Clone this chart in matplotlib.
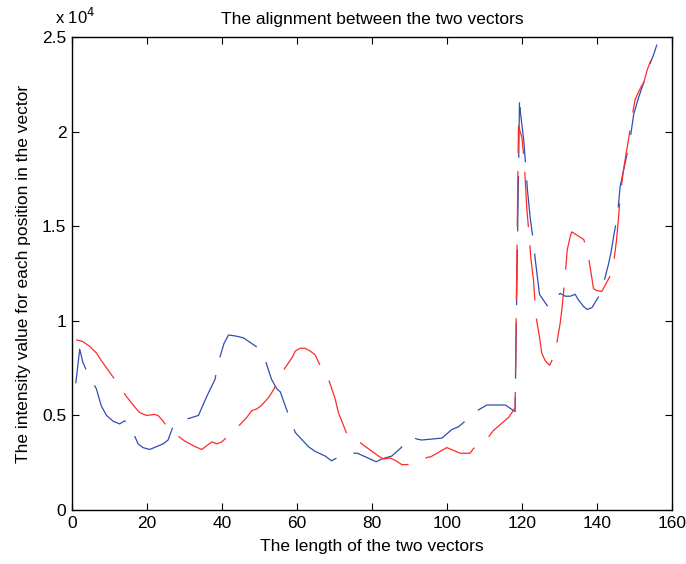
import matplotlib
matplotlib.use("Agg")
import matplotlib.pyplot as plt
from matplotlib.ticker import FuncFormatter

plt.rcParams['font.family'] = ['Liberation Sans', 'DejaVu Sans']
plt.rcParams['lines.scale_dashes'] = False

# blue vector (position, intensity)
blue_x = [1.0, 2.05, 2.9, 4.0, 6.5, 7.8, 9.2, 10.9, 12.7, 13.9, 14.7, 15.4,
          17.6, 18.9, 20.7, 22.5, 24.3, 25.6, 26.9, 27.8, 28.9, 33.7, 35.9,
          38.1, 39.0, 40.5, 41.7, 43.5, 45.7, 47.9, 50.1, 51.7, 53.2, 54.6,
          55.5, 57.2, 59.5, 63.0, 64.8, 67.5, 69.2, 71.0, 73.2, 75.0, 76.1,
          81.1, 82.6, 85.2, 87.5, 90.3, 91.9, 93.2, 98.6, 101.2, 103.0, 104.8,
          106.6, 108.4, 110.6, 115.5, 118.1, 119.3, 119.5, 120.4, 120.8, 121.4,
          122.1, 122.8, 123.5, 124.6, 127.0, 128.4, 130.1, 131.5, 132.8, 134.1,
          135.0, 136.4, 137.3, 138.6, 141.2, 142.1, 143.0, 143.6, 144.4, 145.4,
          146.1, 147.5, 148.8, 149.7, 151.1, 152.4, 154.1, 155.0, 155.9]
blue_y = [6700, 8500, 7800, 7300, 6400, 5500, 5000, 4700, 4550, 4700, 4700, 4500,
          3500, 3300, 3200, 3350, 3500, 3700, 4400, 4600, 4700, 5000, 6000,
          6900, 7800, 8800, 9250, 9200, 9100, 8800, 8500, 7800, 6900, 6400,
          6250, 5300, 4100, 3350, 3100, 2850, 2600, 2800, 2800, 3000, 3000,
          2550, 2700, 2850, 3250, 3900, 3750, 3700, 3800, 4250, 4400, 4700,
          4850, 5300, 5550, 5550, 5200, 21900, 21050, 19550, 18500, 16900,
          15500, 14450, 13200, 11400, 10700, 11100, 11450, 11300, 11300, 11400,
          11100, 10750, 10600, 10700, 11550, 12300, 13000, 13550, 14500, 15600,
          17100, 18400, 19650, 20900, 21850, 22600, 23600, 24050, 24600]

# red vector (position, intensity)
red_x = [1.1, 2.9, 4.7, 6.5, 7.8, 9.6, 11.4, 14.5, 16.7, 18.0, 19.8, 22.0,
         22.9, 24.3, 25.6, 30.0, 32.8, 34.6, 35.9, 37.3, 38.6, 39.9, 41.3,
         42.8, 46.6, 47.9, 49.3, 50.6, 52.4, 53.7, 54.8, 55.7, 58.8, 59.5,
         60.8, 62.1, 63.5, 64.8, 66.1, 67.0, 68.4, 70.1, 71.0, 71.9, 72.8,
         73.7, 75.0, 76.4, 77.2, 81.7, 83.0, 84.8, 86.4, 87.9, 89.3, 90.6,
         91.9, 93.7, 95.0, 95.5, 99.9, 101.7, 103.5, 106.1, 107.0, 108.8,
         110.6, 112.3, 116.4, 118.1, 119.0, 119.9, 120.5, 120.8, 121.2, 121.9,
         122.3, 123.0, 123.7, 124.6, 125.2, 126.1, 127.3, 128.4, 129.2, 130.1,
         130.6, 131.5, 132.0, 132.8, 133.2, 136.4, 137.5, 139.0, 139.9, 141.2,
         143.8, 144.4, 145.1, 145.7, 146.1, 147.0, 148.3, 149.2, 150.1, 151.5,
         152.4, 153.3, 155.0, 155.9]
red_y = [9000, 8900, 8650, 8300, 7900, 7400, 6900, 6000, 5450, 5150, 5000, 5050,
         5000, 4700, 4300, 3650, 3350, 3200, 3400, 3600, 3500, 3600, 3850,
         4100, 4900, 5250, 5350, 5550, 5950, 6350, 6800, 7200, 8100, 8400,
         8550, 8550, 8400, 8200, 7650, 7300, 6900, 5900, 5150, 4700, 4250,
         3800, 3750, 3650, 3500, 2850, 2700, 2750, 2600, 2400, 2400, 2450,
         2550, 2700, 2800, 2800, 3300, 3150, 3000, 3000, 3250, 3550, 3750,
         4200, 4900, 5400, 20300, 19700, 18500, 17450, 16000, 14350, 13300,
         12150, 10200, 9150, 8300, 7900, 7650, 8100, 8800, 9850, 10650, 12500,
         13750, 14450, 14700, 14300, 13600, 11700, 11600, 11550, 12500, 13100,
         14200, 15500, 16550, 18000, 19550, 20700, 21700, 22300, 22600, 23250,
         24150, 24600]

xticks = [0, 20, 40, 60, 80, 100, 120, 140, 160]
yticks = [0, 5000, 10000, 15000, 20000, 25000]

fig = plt.figure(figsize=(6.86, 5.64), dpi=100)
ax = fig.add_axes([0.105, 0.0957, 0.875, 0.8387])

ax.plot(blue_x, blue_y, color='#2f4fb0', lw=0.9, dashes=(40, 13))
ax.plot(red_x, red_y, color='#ff2a2a', lw=0.9, dashes=(40, 13))

ax.set_xlim(0, 160)
ax.set_ylim(0, 25000)
ax.set_xticks(xticks)
ax.set_yticks(yticks)
ax.yaxis.set_major_formatter(FuncFormatter(lambda v, p: '%g' % (v / 1e4)))
ax.tick_params(direction='in', top=True, right=True, labelsize=12.5, length=5, pad=4)
for s in ax.spines.values():
    s.set_linewidth(1.0)

ax.set_title('The alignment between the two vectors', fontsize=12.5, pad=9)
ax.set_xlabel('The length of the two vectors', fontsize=12.5, labelpad=6)
ax.set_ylabel('The intensity value for each position in the vector', fontsize=12.5, labelpad=8)
fig.text(0.08, 0.958, 'x 10$^4$', fontsize=12)

fig.savefig('out.png', dpi=100)
